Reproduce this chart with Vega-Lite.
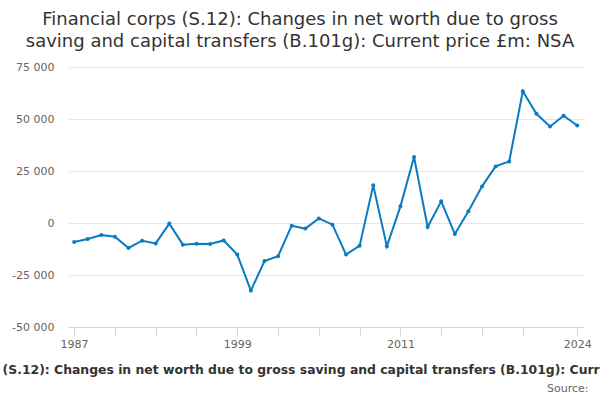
{
  "$schema": "https://vega.github.io/schema/vega-lite/v6.json",
  "autosize": "none",
  "width": 516,
  "height": 260,
  "padding": {"left": 68, "top": 67, "right": 16, "bottom": 73},
  "background": "white",
  "title": {
    "text": ["Financial corps (S.12): Changes in net worth due to gross", "saving and capital transfers (B.101g): Current price £m: NSA"],
    "font": "DejaVu Sans",
    "fontSize": 18,
    "fontWeight": "normal",
    "lineHeight": 22,
    "color": "#333333",
    "anchor": "middle",
    "dx": -26,
    "offset": 10
  },
  "config": {
    "locale": {
      "number": {"decimal": ".", "thousands": " ", "grouping": [3], "currency": ["£", ""], "minus": "-"}
    },
    "view": {"stroke": null},
    "axis": {"labelFont": "DejaVu Sans", "titleFont": "DejaVu Sans"}
  },
  "data": {
    "values": [
      {"year": 1987, "value": -9100},
      {"year": 1988, "value": -7700},
      {"year": 1989, "value": -5800},
      {"year": 1990, "value": -6600},
      {"year": 1991, "value": -12000},
      {"year": 1992, "value": -8500},
      {"year": 1993, "value": -9800},
      {"year": 1994, "value": -300},
      {"year": 1995, "value": -10400},
      {"year": 1996, "value": -10000},
      {"year": 1997, "value": -10100},
      {"year": 1998, "value": -8400},
      {"year": 1999, "value": -15200},
      {"year": 2000, "value": -32500},
      {"year": 2001, "value": -18300},
      {"year": 2002, "value": -16000},
      {"year": 2003, "value": -1300},
      {"year": 2004, "value": -2700},
      {"year": 2005, "value": 2200},
      {"year": 2006, "value": -800},
      {"year": 2007, "value": -15200},
      {"year": 2008, "value": -10900},
      {"year": 2009, "value": 18100},
      {"year": 2010, "value": -11200},
      {"year": 2011, "value": 8000},
      {"year": 2012, "value": 31700},
      {"year": 2013, "value": -1900},
      {"year": 2014, "value": 10400},
      {"year": 2015, "value": -5300},
      {"year": 2016, "value": 5600},
      {"year": 2017, "value": 17600},
      {"year": 2018, "value": 27200},
      {"year": 2019, "value": 29600},
      {"year": 2020, "value": 63300},
      {"year": 2021, "value": 52500},
      {"year": 2022, "value": 46400},
      {"year": 2023, "value": 51600},
      {"year": 2024, "value": 46900}
    ]
  },
  "encoding": {
    "y": {
      "field": "value",
      "type": "quantitative",
      "scale": {"domain": [-50000, 75000], "nice": false, "zero": false},
      "axis": {
        "title": null,
        "values": [-50000, -25000, 0, 25000, 50000, 75000],
        "format": ",.0f",
        "domain": false,
        "ticks": false,
        "gridColor": "#e6e6e6",
        "labelColor": "#666666",
        "labelFontSize": 11,
        "labelPadding": 14
      }
    }
  },
  "layer": [
    {
      "mark": {"type": "line", "color": "#0b7bc1", "strokeWidth": 2},
      "encoding": {
        "x": {
          "field": "year",
          "type": "quantitative",
          "scale": {"domain": [1986.55, 2024.5], "nice": false, "zero": false},
          "axis": {
            "orient": "bottom",
            "values": [1987, 1990, 1993, 1996, 1999, 2002, 2005, 2008, 2011, 2014, 2017, 2020, 2024],
            "labelExpr": "indexof([1987, 1999, 2011, 2024], datum.value) >= 0 ? datum.value : ''",
            "grid": false,
            "domainColor": "#ccd6eb",
            "tickColor": "#ccd6eb",
            "tickSize": 9,
            "labelColor": "#666666",
            "labelFontSize": 11,
            "labelPadding": 2,
            "title": "Financial corps (S.12): Changes in net worth due to gross saving and capital transfers (B.101g): Current price £m: NSA",
            "titleFontSize": 12.4,
            "titleFontWeight": "bold",
            "titleColor": "#333333",
            "titleX": 241,
            "titleY": 46,
            "titleBaseline": "alphabetic",
            "titleAnchor": "middle",
            "titleAlign": "center",
            "titleLimit": 2000
          }
        }
      }
    },
    {
      "mark": {"type": "point", "filled": true, "color": "#0b7bc1", "size": 16, "opacity": 1},
      "encoding": {
        "x": {
          "field": "year",
          "type": "quantitative",
          "axis": {
            "orient": "top",
            "domain": false,
            "ticks": false,
            "labels": false,
            "grid": false,
            "title": "Source:",
            "titleFontSize": 11,
            "titleFontWeight": "normal",
            "titleColor": "#666666",
            "titleX": 520,
            "titleY": 324,
            "titleBaseline": "alphabetic",
            "titleAlign": "right",
            "titleAnchor": "end"
          }
        }
      }
    }
  ],
  "resolve": {"axis": {"x": "independent"}}
}
